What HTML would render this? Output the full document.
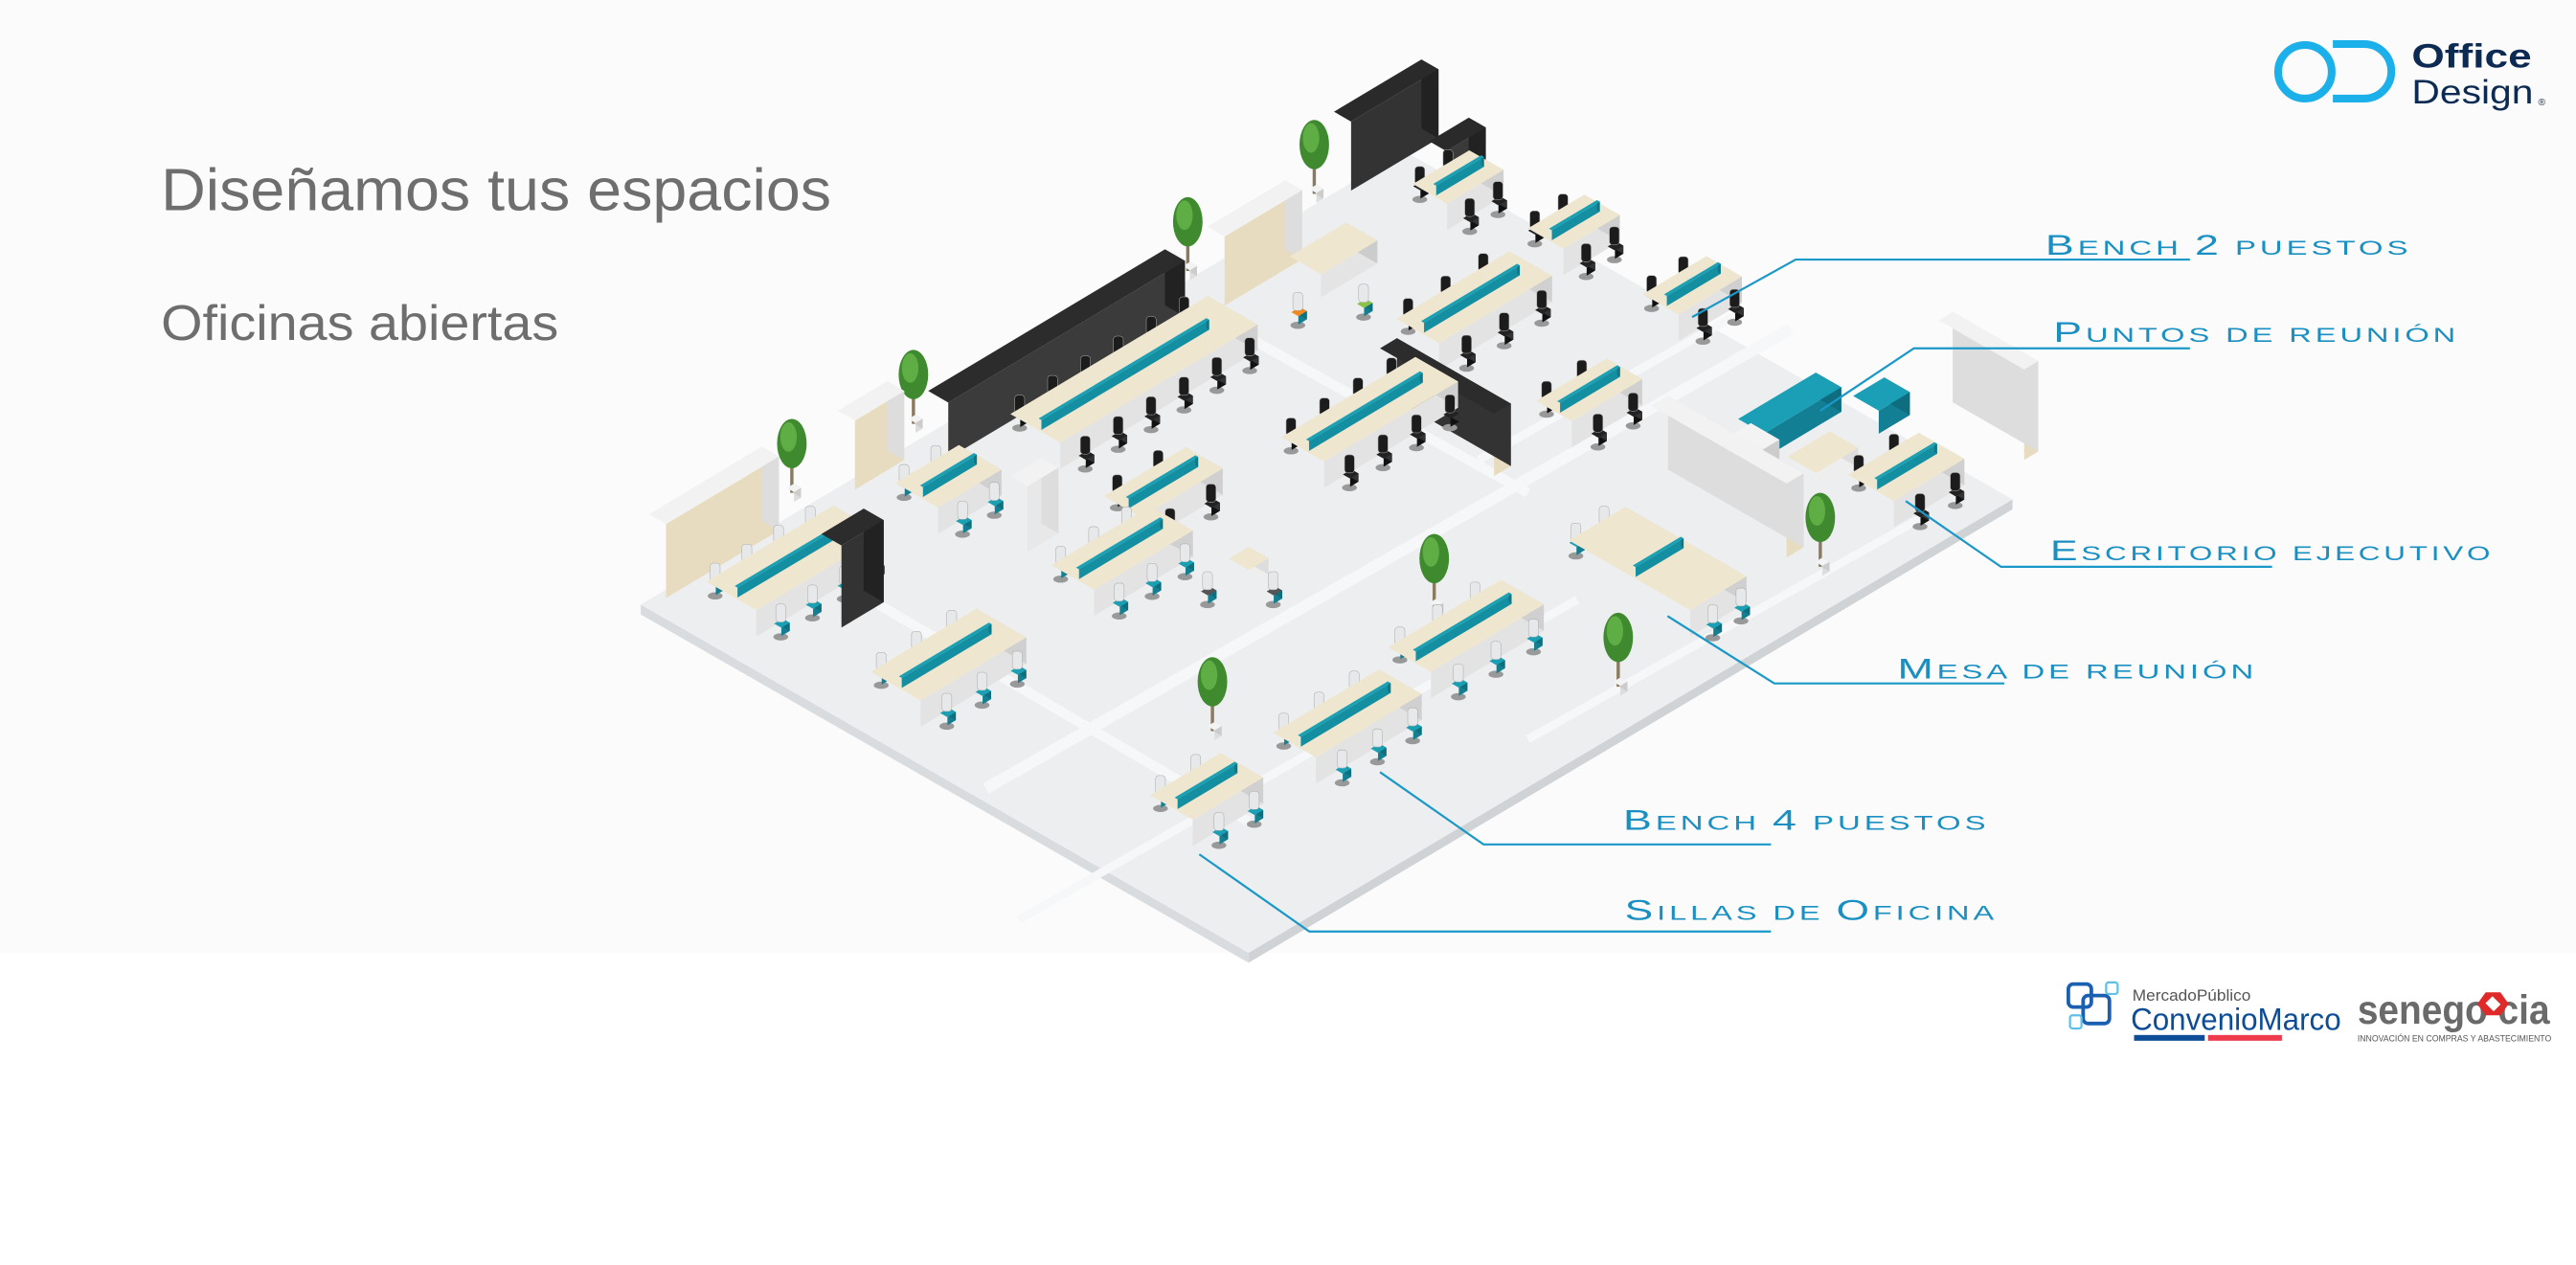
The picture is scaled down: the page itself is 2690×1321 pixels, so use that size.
<!DOCTYPE html>
<html><head><meta charset="utf-8"><style>
html,body{margin:0;padding:0;background:#fff;width:2690px;height:1321px;overflow:hidden}
svg{display:block}
</style></head><body>
<svg id="s" width="2690" height="1321" viewBox="0 0 1568 770" preserveAspectRatio="none" xmlns="http://www.w3.org/2000/svg">
<rect x="0" y="0" width="1568" height="580" fill="#fbfbfb"/>
<rect x="0" y="580" width="1568" height="190" fill="#ffffff"/>
<g id="floor"></g>
<g id="items"></g>
<!-- leader lines -->
<g stroke="#1a98c8" stroke-width="1.3" fill="none">
<polyline points="1030,193 1093,158 1333,158"/>
<polyline points="1108,250 1165,212 1333,212"/>
<polyline points="1160,305 1218,345 1383,345"/>
<polyline points="1015,375 1080,416 1220,416"/>
<polyline points="840,470 903,514 1078,514"/>
<polyline points="730,520 797,567 1078,567"/>
</g>
<g font-family="Liberation Sans, sans-serif" fill="#1a8fc2" font-size="12.5" letter-spacing="1.5">
<text x="1245" y="155" textLength="223" lengthAdjust="spacingAndGlyphs"><tspan font-size="17">B</tspan>ENCH <tspan font-size="17">2</tspan> PUESTOS</text>
<text x="1250" y="208" textLength="247" lengthAdjust="spacingAndGlyphs"><tspan font-size="17">P</tspan>UNTOS DE REUNIÓN</text>
<text x="1248" y="341" textLength="270" lengthAdjust="spacingAndGlyphs"><tspan font-size="17">E</tspan>SCRITORIO EJECUTIVO</text>
<text x="1155" y="413" textLength="219" lengthAdjust="spacingAndGlyphs"><tspan font-size="17">M</tspan>ESA DE REUNIÓN</text>
<text x="988" y="505" textLength="223" lengthAdjust="spacingAndGlyphs"><tspan font-size="17">B</tspan>ENCH <tspan font-size="17">4</tspan> PUESTOS</text>
<text x="989" y="560" textLength="227" lengthAdjust="spacingAndGlyphs"><tspan font-size="17">S</tspan>ILLAS DE <tspan font-size="17">O</tspan>FICINA</text>
</g>
<g font-family="Liberation Sans, sans-serif" fill="#6e6e6e">
<text x="98" y="128" font-size="36" textLength="408" lengthAdjust="spacingAndGlyphs">Diseñamos tus espacios</text>
<text x="98" y="207" font-size="30" textLength="242" lengthAdjust="spacingAndGlyphs">Oficinas abiertas</text>
</g>
<!-- Office Design logo -->
<circle cx="1403" cy="43.7" r="16.3" fill="none" stroke="#1cb0ea" stroke-width="4.7"/>
<path d="M1420,26.8 H1439 A16.6,16.6 0 0 1 1439,60 H1420" fill="none" stroke="#1cb0ea" stroke-width="4.7"/>
<g font-family="Liberation Sans, sans-serif" fill="#0d2b52">
<text x="1468" y="41" font-size="20.5" font-weight="bold" textLength="73" lengthAdjust="spacingAndGlyphs">Office</text>
<text x="1468" y="63" font-size="20.5" textLength="74" lengthAdjust="spacingAndGlyphs">Design</text>
<text x="1545" y="64" font-size="6">®</text>
</g>
<!-- ConvenioMarco -->
<g fill="none" stroke="#1a5fb0" stroke-width="2.2">
<rect x="1259" y="599" width="14" height="14" rx="3"/>
<rect x="1268" y="606" width="16" height="17" rx="3"/>
</g>
<g fill="none" stroke="#5cc0e8" stroke-width="1.3">
<rect x="1282" y="598" width="7" height="7" rx="1.5"/>
<rect x="1260" y="618" width="7" height="8" rx="1.5"/>
</g>
<g font-family="Liberation Sans, sans-serif">
<text x="1298" y="609" font-size="9.5" fill="#555" textLength="72" lengthAdjust="spacingAndGlyphs">MercadoPúblico</text>
<text x="1297" y="627" font-size="19" fill="#0d4c97" textLength="128" lengthAdjust="spacingAndGlyphs">ConvenioMarco</text>
<text x="1435" y="623" font-size="25" font-weight="bold" fill="#6a6a6a" textLength="117" lengthAdjust="spacingAndGlyphs">senego  cia</text>
<text x="1435" y="634" font-size="5.6" fill="#555" textLength="118" lengthAdjust="spacingAndGlyphs">INNOVACIÓN EN COMPRAS Y ABASTECIMIENTO</text>
</g>
<rect x="1299" y="630" width="43" height="3.5" fill="#0d4c97"/>
<rect x="1344" y="630" width="45" height="3.5" fill="#ee3a4b"/>
<polygon points="1513,604 1522,604 1527,611 1522,618 1513,618 1508,611" fill="#e02a2a"/>
<rect x="1514" y="608" width="7" height="6" fill="#fff" transform="rotate(45 1517.5 611)"/>
</svg>
<script>
(function(){
var NS="http://www.w3.org/2000/svg";
var F=document.getElementById("floor"),I=document.getElementById("items");
function poly(g,pts,fill,stroke){var p=document.createElementNS(NS,"polygon");p.setAttribute("points",pts.map(function(q){return q[0].toFixed(1)+","+q[1].toFixed(1)}).join(" "));p.setAttribute("fill",fill);if(stroke){p.setAttribute("stroke",stroke);p.setAttribute("stroke-width","0.5");}g.appendChild(p);}
var L=[390,368],T=[855,92],B=[760,580],R=[T[0]+B[0]-L[0],T[1]+B[1]-L[1]];
var th=6;
poly(F,[[L[0],L[1]],[B[0],B[1]],[B[0],B[1]+th],[L[0],L[1]+th]],"#d9dcdf");
poly(F,[[B[0],B[1]],[R[0],R[1]],[R[0],R[1]+th],[B[0],B[1]+th]],"#cfd3d6");
poly(F,[L,T,R,B],"#eceef0");
function ln(a,b,c,w){var l=document.createElementNS(NS,"line");l.setAttribute("x1",a[0]);l.setAttribute("y1",a[1]);l.setAttribute("x2",b[0]);l.setAttribute("y2",b[1]);l.setAttribute("stroke",c);l.setAttribute("stroke-width",w);F.appendChild(l);}
ln([470,330],[760,500],"#f6f7f8",6);ln([750,200],[930,300],"#f6f7f8",6);
ln([600,480],[1090,200],"#f6f7f8",7);ln([900,280],[1060,190],"#f6f7f8",5);
ln([620,560],[960,365],"#f6f7f8",5);ln([930,450],[1170,315],"#f6f7f8",5);
var ua=[0.858,-0.513],ub=[0.868,0.498];
function add(p,v,s){return [p[0]+v[0]*s,p[1]+v[1]*s];}
function box(x,y,la,lb,h,top,front,side){
var p0=[x,y],p1=add(p0,ua,la),p2=add(p1,ub,lb),p3=add(p0,ub,lb);
function up(p){return [p[0],p[1]-h];}
poly(I,[p3,p2,up(p2),up(p3)],front||"#d8d8d8");
poly(I,[p1,p2,up(p2),up(p1)],side||"#c8c8c8");
poly(I,[up(p0),up(p1),up(p2),up(p3)],top);
return [p0,p1,p2,p3];}
function chair(x,y,c){var e=document.createElementNS(NS,"ellipse");e.setAttribute("cx",x);e.setAttribute("cy",y+3);e.setAttribute("rx",4.5);e.setAttribute("ry",2.2);e.setAttribute("fill","#999");I.appendChild(e);
box(x-4,y,6,5,5,c,c=="#222"?"#111":"#137f90",c=="#222"?"#333":"#0f6f7e");
var b=document.createElementNS(NS,"rect");b.setAttribute("x",x-3);b.setAttribute("y",y-17);b.setAttribute("width",6);b.setAttribute("height",11);b.setAttribute("rx",2);b.setAttribute("fill",c=="#222"?"#1c1c1c":"#e6e8ea");b.setAttribute("stroke","#aaa");b.setAttribute("stroke-width","0.3");I.appendChild(b);}
function desk(x,y,la,lb,dark){
var c=dark?"#222":"#1a9fb3";
var n=Math.max(1,Math.round(la/24));
for(var i=0;i<n;i++){var p=add([x,y],ua,(i+0.5)*la/n);var q=add(p,ub,-5);chair(q[0],q[1]-2,c);}
box(x,y,la,lb,16,"#efe6cf","#e3e3e3","#d0d0d0");
var m=add([x,y],ub,lb/2);box(m[0]+2,m[1]-16,la*0.85,2,6,"#1a9fb3","#148ea1","#0f7888");
for(var i=0;i<n;i++){var p=add(add([x,y],ua,(i+0.5)*la/n),ub,lb+6);chair(p[0],p[1],c);}
}
function tree(x,y){var t=document.createElementNS(NS,"rect");t.setAttribute("x",x-1);t.setAttribute("y",y-22);t.setAttribute("width",2);t.setAttribute("height",22);t.setAttribute("fill","#8a7a60");I.appendChild(t);
var e=document.createElementNS(NS,"ellipse");e.setAttribute("cx",x);e.setAttribute("cy",y-30);e.setAttribute("rx",9);e.setAttribute("ry",15);e.setAttribute("fill","#3f8a2e");I.appendChild(e);
var e2=document.createElementNS(NS,"ellipse");e2.setAttribute("cx",x-2);e2.setAttribute("cy",y-34);e2.setAttribute("rx",5);e2.setAttribute("ry",9);e2.setAttribute("fill","#5fae45");I.appendChild(e2);
box(x-3,y+3,5,5,6,"#f3f3f3","#ddd","#ccc");}
box(812,110,62,12,42,"#2a2a2a","#333","#222");
box(870,108,28,12,22,"#2a2a2a","#3a3a3a","#222");
tree(800,118);
desk(860,128,40,24,true);
box(735,180,55,12,42,"#f2f2f2","#e7dcc0","#ddd");
tree(723,165);
box(785,170,40,22,14,"#efe6cf","#e4e4e4","#ccc");
chair(790,195,"#f08a20");chair(830,190,"#8bc34a");
desk(930,155,40,25,true);
desk(1000,195,45,25,true);
box(565,272,168,14,34,"#2c2c2c","#3b3b3b","#222");
desk(850,210,80,30,true);
box(840,250,12,80,38,"#2c2c2c","#e7dcc0","#333");
desk(615,268,140,35,true);
desk(935,260,50,25,true);
tree(556,258);
box(510,292,35,12,42,"#f2f2f2","#e7dcc0","#ddd");
desk(780,282,95,30,true);
box(1058,270,55,18,15,"#1a9fb6","#127f94","#0e6e80");
box(1128,255,22,18,14,"#1a9fb6","#127f94","#0e6e80");
box(1040,285,30,20,12,"#f3f3f3","#ddd","#ccc");
box(1088,290,30,20,12,"#efe6cf","#eee","#ddd");
box(1180,250,10,60,55,"#f2f2f2","#e7dcc0","#ddd");
tree(482,300);
desk(545,310,45,30,false);
desk(672,318,58,26,true);
box(1005,292,12,95,45,"#f2f2f2","#e7dcc0","#ddd");
desk(1125,305,50,32,true);
box(395,358,80,12,45,"#f2f2f2","#e7dcc0","#ddd");
box(615,330,22,12,40,"#f2f2f2","#e8e8e8","#ddd");
tree(1108,345);
desk(640,360,70,30,false);
box(748,350,14,14,10,"#efe6cf","#eee","#ddd");chair(735,365,"#555");chair(775,365,"#555");
desk(430,370,90,35,false);
desk(955,345,40,85,false);
box(500,375,30,14,50,"#2c2c2c","#333","#222");
tree(873,370);
desk(845,410,80,30,false);
desk(530,425,75,35,false);
tree(985,418);
tree(738,445);
desk(775,462,75,30,false);
desk(700,500,50,30,false);
})();
</script>
</body></html>
